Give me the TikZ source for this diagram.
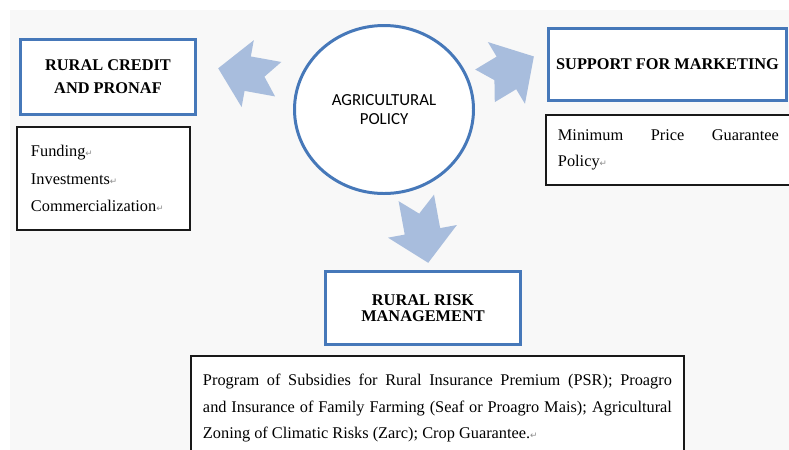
\documentclass[tikz,border=0pt]{standalone}
\usepackage{fontspec}
\setmainfont{Liberation Serif}
\newfontfamily\calibrifont{Carlito}
\newfontfamily\symbolfont{DejaVu Sans}
\usetikzlibrary{shapes.geometric}
\definecolor{boxblue}{RGB}{70,120,185}
\definecolor{arrowblue}{RGB}{168,189,221}
\definecolor{backgray}{RGB}{248,248,248}
\newcommand{\retmark}{{\symbolfont\fontsize{5}{5}\selectfont\color{black!45}↵}}

\begin{document}
\begin{tikzpicture}[scale=0.2]
		\tikzstyle{every node}+=[inner sep=0pt]
		\tikzstyle{headbox}=[draw=boxblue, line width=1.7pt, fill=white, align=center, font=\fontsize{9.3}{13}\selectfont\bfseries]
		\tikzstyle{listbox}=[draw=black!90, line width=1.05pt, fill=white, font=\fontsize{9.3}{15.6}\selectfont]
		\tikzstyle{bigarrow}=[fill=arrowblue]
		\clip (0,0) rectangle (78.9,-44.9);
		\fill [backgray] (1,-1) rectangle (80,-46);
		% block arrows
		\begin{scope}[shift={(27.82,-7.92)}, rotate=169.7]
			\fill [bigarrow] (6.1,0) -- (3.1,3.4) -- (3.1,1.75) -- (0,1.75) -- (1.4,0) -- (0,-1.75) -- (3.1,-1.75) -- (3.1,-3.4) -- cycle;
		\end{scope}
		\begin{scope}[shift={(48.5,-8.58)}, rotate=31]
			\fill [bigarrow] (5.7,0) -- (2.5,3.6) -- (2.5,1.9) -- (0,1.9) -- (1.1,0) -- (0,-1.9) -- (2.5,-1.9) -- (2.5,-3.6) -- cycle;
		\end{scope}
		\begin{scope}[shift={(41.63,-19.79)}, rotate=-79.6]
			\fill [bigarrow] (6.6,0) -- (3.4,3.5) -- (3.4,1.8) -- (0,1.8) -- (1.6,0) -- (0,-1.8) -- (3.4,-1.8) -- (3.4,-3.5) -- cycle;
		\end{scope}
		% centre
		\node [ellipse, draw=boxblue, line width=1.7pt, fill=white, minimum width=3.58cm, minimum height=3.36cm, align=center, font=\calibrifont\fontsize{9.6}{10.4}\selectfont] (policy) at (38.4,-10.95) {AGRICULTURAL\\POLICY};
		% left
		\node [headbox, minimum width=3.5cm, minimum height=1.5cm] (credit) at (10.8,-7.7) {RURAL CREDIT\\AND PRONAF};
		\node [listbox, text width=2.9cm, inner xsep=0.285cm, minimum height=2.07cm, align=left] (creditlist) at (10.35,-17.85) {Funding\retmark\\Investments\retmark\\Commercialization\retmark};
		% right
		\node [headbox, minimum width=4.76cm, minimum height=1.44cm] (market) at (66.75,-6.45) {SUPPORT FOR MARKETING};
		\node [listbox, text width=4.42cm, inner xsep=0.245cm, minimum height=1.41cm, align=justify, anchor=west, font=\fontsize{9.3}{14.9}\selectfont] (marketlist) at (54.475,-15.0) {Minimum Price Guarantee\linebreak Policy\retmark};
		% bottom
		\node [headbox, minimum width=3.9cm, minimum height=1.46cm, font=\fontsize{9.3}{9.2}\selectfont\bfseries] (risk) at (42.3,-30.8) {RURAL RISK\\MANAGEMENT};
		\node [listbox, text width=9.38cm, inner xsep=0.245cm, inner ysep=0.36cm, align=justify, anchor=north, font=\fontsize{9.3}{15.3}\selectfont] (risklist) at (43.75,-35.475) {Program of Subsidies for Rural Insurance Premium (PSR); Proagro\linebreak and Insurance of Family Farming (Seaf or Proagro Mais); Agricultural\linebreak Zoning of Climatic Risks (Zarc); Crop Guarantee.\retmark};
	\end{tikzpicture}
\end{document}
